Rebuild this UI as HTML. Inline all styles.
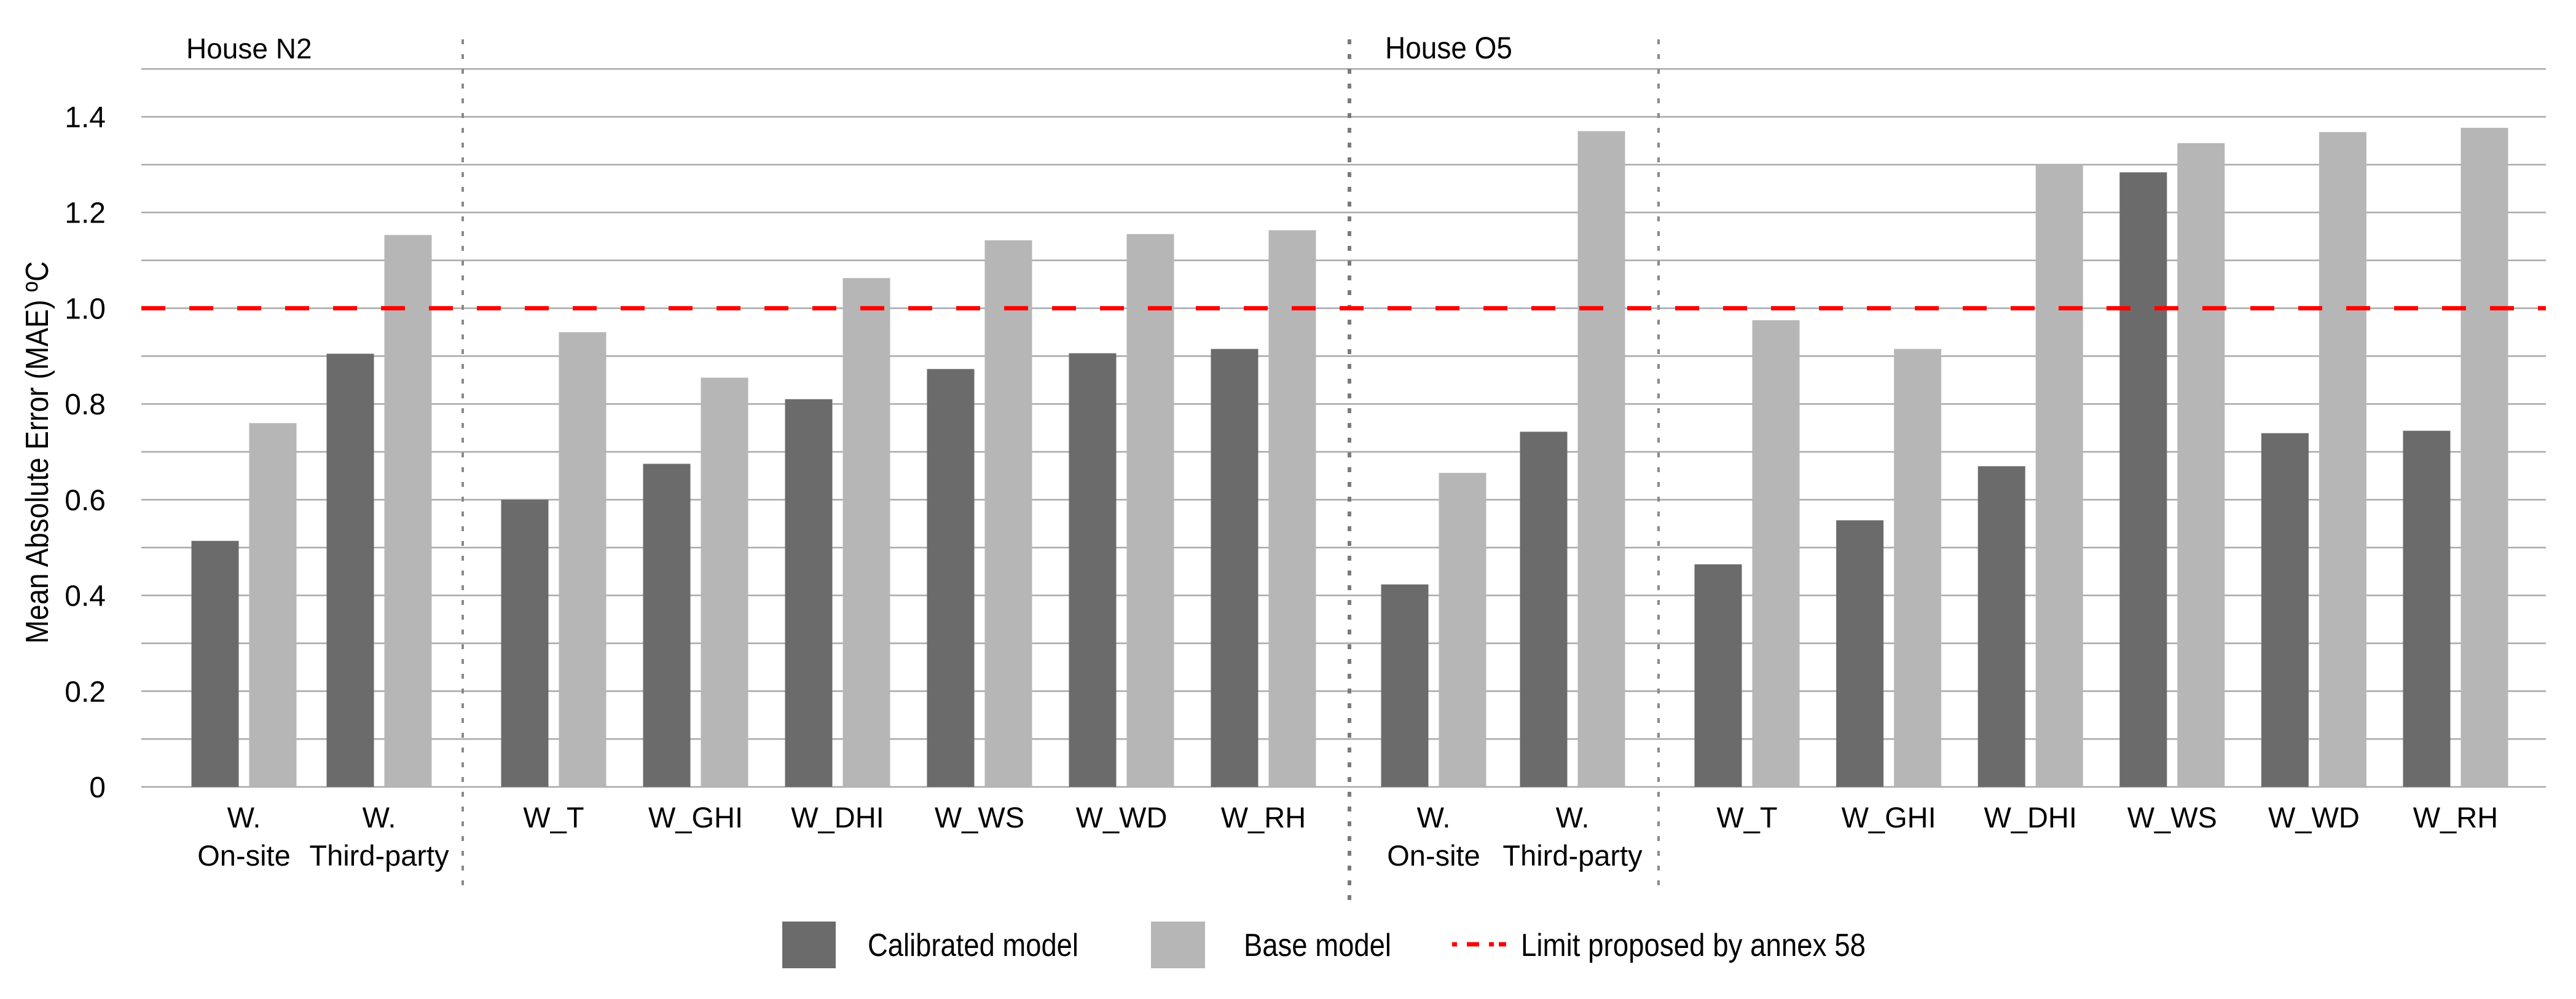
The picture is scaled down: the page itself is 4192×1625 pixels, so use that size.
<!DOCTYPE html>
<html><head><meta charset="utf-8"><style>
html,body{margin:0;padding:0;background:#fff}
svg{display:block}
text{font-family:"Liberation Sans",Arial,sans-serif;fill:#000}
</style></head><body>
<svg id="chart" width="4192" height="1625" viewBox="0 0 4192 1625" xmlns="http://www.w3.org/2000/svg">
<g id="grid"></g>
<g id="bars"></g>
<g id="dividers"></g>
<g id="limit"></g>
<g id="yticks"></g>
<g id="xlabels"></g>
<text transform="translate(78,736) rotate(-90)" text-anchor="middle" font-size="52" textLength="622" lengthAdjust="spacingAndGlyphs">Mean Absolute Error (MAE) ºC</text>
<text x="303" y="95" font-size="46">House N2</text>
<text x="2254" y="95" font-size="50" textLength="207" lengthAdjust="spacingAndGlyphs">House O5</text>
<g>
<rect x="1273" y="1499" width="87" height="76" fill="#6b6b6b"/>
<text x="1412" y="1555" font-size="52" textLength="343" lengthAdjust="spacingAndGlyphs">Calibrated model</text>
<rect x="1873" y="1499" width="88" height="76" fill="#b6b6b6"/>
<text x="2024" y="1555" font-size="52" textLength="240" lengthAdjust="spacingAndGlyphs">Base model</text>
<line x1="2363" y1="1536" x2="2451" y2="1536" stroke="#ff0000" stroke-width="7" stroke-dasharray="8,16,20,16,8"/>
<text x="2475" y="1555" font-size="52" textLength="561" lengthAdjust="spacingAndGlyphs">Limit proposed by annex 58</text>
</g>
</svg>
<script>
const categories = ["W.|On-site","W.|Third-party","W_T","W_GHI","W_DHI","W_WS","W_WD","W_RH","W.|On-site","W.|Third-party","W_T","W_GHI","W_DHI","W_WS","W_WD","W_RH"];
const calibrated = [0.514,0.905,0.600,0.675,0.810,0.873,0.906,0.915,0.423,0.742,0.465,0.557,0.670,1.284,0.739,0.744];
const base = [0.760,1.153,0.950,0.855,1.063,1.142,1.155,1.163,0.656,1.370,0.975,0.915,1.300,1.345,1.368,1.377];
const yTicks = [0,0.2,0.4,0.6,0.8,1.0,1.2,1.4];
const yTickLabels = ["0","0.2","0.4","0.6","0.8","1.0","1.2","1.4"];
const limitValue = 1.0;

const NS="http://www.w3.org/2000/svg";
const Y0=1280, PXU=778.6, XL=230, XR=4143;
function y(v){return Y0 - v*PXU;}
const sections=[[0,397,220],[2,901,231],[8,2333,226],[10,2843,230.6]];
function xc(i){let s=sections[0];for(const t of sections){if(i>=t[0])s=t;}return s[1]+(i-s[0])*s[2];}
function mk(tag,attrs,parent){const e=document.createElementNS(NS,tag);for(const k in attrs)e.setAttribute(k,attrs[k]);parent.appendChild(e);return e;}
const grid=document.getElementById('grid');
for(let k=0;k<=15;k++){
  const v=k/10;
  const l=mk('line',{x1:XL,x2:XR,y1:y(v),y2:y(v),stroke:'#a8a8a8','stroke-width':2.5},grid);
  
  
}
const yt=document.getElementById('yticks');
yTicks.forEach((v,i)=>{
  const t=mk('text',{x:172,y:y(v)+17,'text-anchor':'end','font-size':48},yt);
  t.textContent=yTickLabels[i];
  
  
});
const bars=document.getElementById('bars');
const BW=77, GAP=17;
categories.forEach((c,i)=>{
  const cx=xc(i);
  const r1=mk('rect',{x:cx-GAP/2-BW,y:y(calibrated[i]),width:BW,height:Y0-y(calibrated[i]),fill:'#6b6b6b'},bars);
  
  
  const r2=mk('rect',{x:cx+GAP/2,y:y(base[i]),width:BW,height:Y0-y(base[i]),fill:'#b6b6b6'},bars);
  
  
  const parts=c.split('|');
  parts.forEach((p,j)=>{
    const t=mk('text',{x:cx,y:1346+j*62,'text-anchor':'middle','font-size':47},document.getElementById('xlabels'));
    t.textContent=p;
    
    
  });
});
const dv=document.getElementById('dividers');
[[753,64,1441,'#8a8a8a',4],[2196,64,1471,'#7a7a7a',6],[2699,64,1441,'#8a8a8a',4]].forEach(d=>{
  const l=mk('line',{x1:d[0],x2:d[0],y1:d[1],y2:d[2],stroke:d[3],'stroke-width':d[4],'stroke-dasharray':'8,16'},dv);
  
  
});
const lim=mk('line',{x1:XL,x2:XR,y1:y(limitValue),y2:y(limitValue),stroke:'#ff0000','stroke-width':7,'stroke-dasharray':'39,39'},document.getElementById('limit'));


</script>
</body></html>
